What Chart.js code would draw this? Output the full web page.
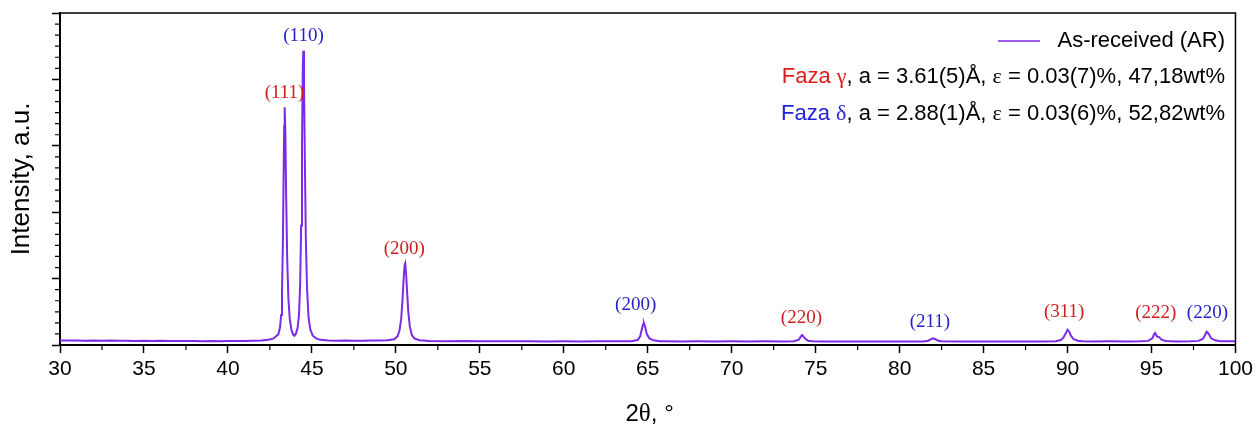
<!DOCTYPE html>
<html>
<head>
<meta charset="utf-8">
<script src="https://cdn.jsdelivr.net/npm/chart.js@4.4.1/dist/chart.umd.min.js"></script>
<style>
    html, body { margin: 0; padding: 0; background: #fff; }
    #wrap { width: 1257px; height: 427px; }
</style>
</head>
<body>
<div id="wrap"><canvas id="xrd" width="1257" height="427"></canvas></div>
<script>
// ==================== DONNEES ====================

const twoTheta = [
    30, 30.5, 31, 31.5, 32, 32.5, 33, 33.5, 34, 34.5, 35, 35.5, 36, 36.5, 37, 37.5, 38, 38.5, 39, 39.5,
    40, 40.5, 41, 41.5, 42, 42.4, 42.7,
    43.0, 43.1, 43.17, 43.22, 43.27, 43.31, 43.35, 43.38, 43.42, 43.47, 43.53, 43.6, 43.68, 43.78, 43.88, 43.96,
    44.05, 44.15, 44.23, 44.3, 44.36, 44.41, 44.46, 44.49, 44.53, 44.58, 44.64, 44.71, 44.8, 44.9, 45.05, 45.25, 45.5,
    46, 46.5, 47, 47.5, 48, 48.5, 49, 49.5,
    49.9, 50.1, 50.22, 50.32, 50.4, 50.47, 50.52, 50.56, 50.61, 50.67, 50.74, 50.83, 50.95, 51.1, 51.4,
    52, 53, 54, 55, 56, 57, 58, 59, 60, 61, 62, 63, 64,
    64.4, 64.55, 64.65, 64.72, 64.77, 64.85, 64.95, 65.1, 65.35, 65.7,
    66, 67, 68, 69, 70, 71, 72, 73, 73.7,
    74.0, 74.12, 74.2, 74.3, 74.4, 74.55, 74.8,
    75.5, 76.5, 77.5, 78.5, 79.5, 80.5, 81.4,
    81.7, 81.85, 81.98, 82.1, 82.3, 82.5,
    83.5, 84.5, 85.5, 86.5, 87.5, 88.5, 89.3,
    89.6, 89.75, 89.9, 90.0, 90.1, 90.2, 90.35, 90.6, 90.9,
    91.5, 92.5, 93.5, 94.3,
    94.8, 95.05, 95.15, 95.22, 95.32, 95.45, 95.6, 95.85,
    96.5, 97.3, 97.8,
    98.05, 98.15, 98.28, 98.4, 98.55, 98.8, 99.1, 99.6, 100
];
const intensity = [
    0.068, 0.066, 0.069, 0.065, 0.067, 0.064, 0.066, 0.063, 0.065, 0.062, 0.064, 0.061, 0.063, 0.060, 0.062, 0.059, 0.061, 0.058, 0.060, 0.058,
    0.059, 0.062, 0.060, 0.063, 0.068, 0.078, 0.095,
    0.16, 0.26, 0.45, 0.80, 1.50, 2.40, 3.30, 3.58, 3.20, 2.20, 1.30, 0.70, 0.40, 0.23, 0.16, 0.14,
    0.17, 0.26, 0.45, 0.90, 1.80, 3.00, 4.20, 4.43, 4.00, 2.80, 1.60, 0.85, 0.42, 0.24, 0.14, 0.10, 0.078,
    0.068, 0.064, 0.066, 0.063, 0.065, 0.066, 0.068, 0.072,
    0.085, 0.13, 0.22, 0.40, 0.70, 1.02, 1.20, 1.23, 1.08, 0.80, 0.50, 0.28, 0.15, 0.10, 0.072,
    0.062, 0.058, 0.060, 0.056, 0.058, 0.055, 0.057, 0.054, 0.056, 0.054, 0.056, 0.055, 0.058,
    0.075, 0.13, 0.24, 0.31, 0.33, 0.27, 0.16, 0.10, 0.07, 0.058,
    0.056, 0.054, 0.056, 0.053, 0.055, 0.053, 0.055, 0.052, 0.056,
    0.08, 0.13, 0.15, 0.12, 0.09, 0.065, 0.055,
    0.052, 0.054, 0.051, 0.053, 0.051, 0.053, 0.054,
    0.065, 0.085, 0.10, 0.09, 0.065, 0.055,
    0.052, 0.054, 0.051, 0.053, 0.051, 0.054, 0.057,
    0.075, 0.11, 0.18, 0.23, 0.20, 0.14, 0.09, 0.065, 0.057,
    0.053, 0.055, 0.052, 0.055,
    0.062, 0.10, 0.16, 0.18, 0.13, 0.12, 0.08, 0.062,
    0.054, 0.056, 0.062,
    0.09, 0.13, 0.20, 0.17, 0.10, 0.07, 0.058, 0.056, 0.057
];

// indexation des pics : texte, position 2theta, hauteur de l'etiquette, phase
const peakLabels = ['(111)', '(110)', '(200)', '(200)', '(220)', '(211)', '(311)', '(222)', '(220)'];
const peakLabelX = [43.37, 44.5, 50.5, 64.28, 74.15, 81.8, 89.8, 95.25, 98.33];
const peakLabelY = [3.8, 4.65, 1.45, 0.6, 0.41, 0.35, 0.5, 0.48, 0.48];
const peakPhase = ['g', 'd', 'g', 'd', 'g', 'd', 'g', 'g', 'd'];

// graduations
const xTickStep = 5;
const yTickStep = 1;

const seriesLabel = 'As-received (AR)';
const phaseGamma = { nom: 'Faza ', lettre: 'γ', a: ', a = 3.61(5)Å, ', eps: ' = 0.03(7)%, 47,18wt%' };
const phaseDelta = { nom: 'Faza ', lettre: 'δ', a: ', a = 2.88(1)Å, ', eps: ' = 0.03(6)%, 52,82wt%' };

// ==================== STYLE ====================

const SANS = 'Arial, "Liberation Sans", sans-serif';
const SERIF = '"Times New Roman", "Liberation Serif", serif';
const COULEUR_LIGNE = '#7b2be6';
const ROUGE = '#e01b1b';
const BLEU = '#2323d6';

// ==================== PLUGIN DECOR ====================

function texteMixte(ctx, morceaux, xDroite, y) {
    let total = 0;
    morceaux.forEach(m => { ctx.font = m.font; total += ctx.measureText(m.t).width; });
    let x = xDroite - total;
    morceaux.forEach(m => {
        ctx.font = m.font;
        ctx.fillStyle = m.color;
        ctx.fillText(m.t, x, y);
        x += ctx.measureText(m.t).width;
    });
}

const decor = {
    id: 'decor',
    afterDraw(chart) {
        const ctx = chart.ctx;
        const xs = chart.scales.x;
        const ys = chart.scales.y;
        const area = chart.chartArea;
        ctx.save();

        // cadre haut et droit
        ctx.strokeStyle = '#000';
        ctx.lineWidth = 1.5;
        ctx.beginPath();
        ctx.moveTo(area.left, area.top);
        ctx.lineTo(area.right, area.top);
        ctx.lineTo(area.right, area.bottom);
        ctx.stroke();

        // graduations secondaires
        ctx.lineWidth = 1.2;
        ctx.beginPath();
        for (let v = xs.min + xTickStep / 2; v < xs.max; v += xTickStep) {
            const px = xs.getPixelForValue(v);
            ctx.moveTo(px, area.bottom);
            ctx.lineTo(px, area.bottom + 5);
        }
        for (let i = 1; i < 6 * (ys.max - ys.min); i++) {
            if (i % 6 === 0) continue;
            const py = ys.getPixelForValue(ys.min + i / 6);
            ctx.moveTo(area.left - 5, py);
            ctx.lineTo(area.left, py);
        }
        ctx.stroke();

        // etiquettes des pics
        ctx.font = '19px ' + SERIF;
        ctx.textAlign = 'center';
        ctx.textBaseline = 'middle';
        peakLabels.forEach((txt, i) => {
            ctx.fillStyle = peakPhase[i] === 'g' ? '#d21c1c' : '#2424c4';
            ctx.fillText(txt, xs.getPixelForValue(peakLabelX[i]), ys.getPixelForValue(peakLabelY[i]));
        });

        // legende
        const f = '22px ' + SANS;
        const g = '22px ' + SERIF;
        ctx.textAlign = 'left';
        ctx.strokeStyle = COULEUR_LIGNE;
        ctx.lineWidth = 1.6;
        ctx.beginPath();
        ctx.moveTo(998, 41);
        ctx.lineTo(1040, 41);
        ctx.stroke();
        texteMixte(ctx, [{ t: seriesLabel, font: f, color: '#000' }], 1225, 41);
        [[phaseGamma, ROUGE, 77], [phaseDelta, BLEU, 114]].forEach(([p, c, y]) => {
            texteMixte(ctx, [
                { t: p.nom, font: f, color: c },
                { t: p.lettre, font: g, color: c },
                { t: p.a, font: f, color: '#000' },
                { t: 'ε', font: g, color: '#000' },
                { t: p.eps, font: f, color: '#000' }
            ], 1225, y);
        });

        // titre axe x
        ctx.textBaseline = 'alphabetic';
        const cx = (area.left + area.right) / 2;
        texteMixte(ctx, [
            { t: '2', font: '24px ' + SANS, color: '#000' },
            { t: 'θ', font: '25px ' + SERIF, color: '#000' },
            { t: ', °', font: '24px ' + SANS, color: '#000' }
        ], cx + 26, 421);

        ctx.restore();
    }
};

// ==================== GRAPHIQUE ====================

const points = twoTheta.map((t, i) => ({ x: t, y: intensity[i] }));

new Chart(document.getElementById('xrd'), {
    type: 'scatter',
    data: {
        datasets: [{
            label: seriesLabel,
            data: points,
            showLine: true,
            borderColor: COULEUR_LIGNE,
            borderWidth: 2,
            pointRadius: 0,
            tension: 0
        }]
    },
    options: {
        responsive: false,
        animation: false,
        layout: { padding: { top: 13, right: 19, bottom: 0, left: 0 } },
        plugins: {
            legend: { display: false },
            tooltip: { enabled: false }
        },
        scales: {
            x: {
                type: 'linear',
                min: 30,
                max: 100,
                afterFit: s => { s.height = 82; },
                grid: { drawOnChartArea: false, drawTicks: true, tickLength: 8, tickColor: '#000', tickWidth: 1.5 },
                border: { display: true, color: '#000', width: 2 },
                ticks: {
                    stepSize: xTickStep,
                    autoSkip: false,
                    maxRotation: 0,
                    padding: 4,
                    color: '#000',
                    font: { family: SANS, size: 21 }
                }
            },
            y: {
                type: 'linear',
                min: 0,
                max: 5,
                afterFit: s => { s.width = 60; },
                grid: { drawOnChartArea: false, drawTicks: true, tickLength: 8, tickColor: '#000', tickWidth: 1.5 },
                border: { display: true, color: '#000', width: 2 },
                ticks: { stepSize: yTickStep, display: false },
                title: {
                    display: true,
                    text: 'Intensity, a.u.',
                    color: '#000',
                    padding: { top: 6, bottom: 0 },
                    font: { family: SANS, size: 26 }
                }
            }
        }
    },
    plugins: [decor]
});
</script>
</body>
</html>
